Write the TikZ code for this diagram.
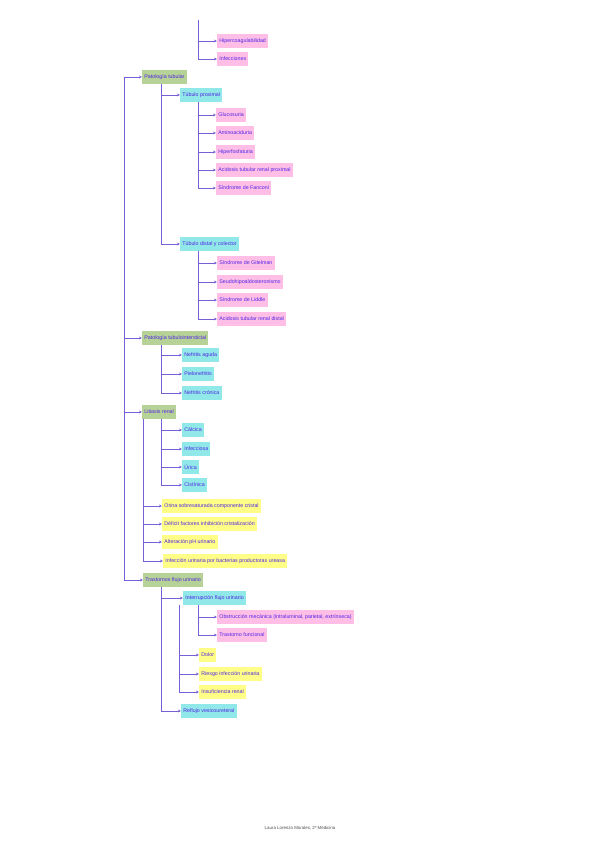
\documentclass[tikz,border=0pt]{standalone}
\usepackage{fontspec}
\setmainfont{Liberation Sans}
\usetikzlibrary{arrows.meta}

\definecolor{linea}{RGB}{120,95,215}
\definecolor{letra}{RGB}{80,35,230}
\definecolor{verde}{RGB}{182,210,150}
\definecolor{cian}{RGB}{145,232,232}
\definecolor{rosa}{RGB}{255,190,230}
\definecolor{amarillo}{RGB}{255,255,135}

\tikzset{
  caja/.style={anchor=west,inner xsep=2.2pt,inner ysep=0pt,minimum height=13.5pt,
    text=letra,font=\fontsize{5.3}{6}\selectfont},
  tema/.style={caja,fill=verde},
  sub/.style={caja,fill=cian},
  hoja/.style={caja,fill=rosa},
  nota/.style={caja,fill=amarillo},
  flecha/.style={draw=linea,line width=0.9pt,-{Stealth[length=3pt,width=2.8pt]}},
}

\begin{document}
\begin{tikzpicture}[x=1pt,y=-1pt]
		\useasboundingbox (0,0) rectangle (600,848);
		
		% resto de la rama anterior
		\coordinate (arriba) at (198,20);
		\node[hoja] (hiper) at (217,41) {Hipercoagulabilidad};
		\node[hoja] (infec) at (217,59) {Infecciones};
		\draw[flecha] (arriba) |- (hiper.west);
		\draw[flecha] (arriba) |- (infec.west);
		
		% patologia tubular
		\node[tema] (tub) at (142,77) {Patología tubular};
		\coordinate (raiz) at (124,77);
		\draw[flecha] (raiz) -- (tub.west);
		
		\node[sub] (prox) at (180,95) {Túbulo proximal};
		\node[hoja] (glu) at (216,115) {Glucosuria};
		\node[hoja] (amino) at (216,133) {Aminoaciduria};
		\node[hoja] (fosf) at (216,152) {Hiperfosfaturia};
		\node[hoja] (atrp) at (216,170) {Acidosis tubular renal proximal};
		\node[hoja] (fanc) at (216,188) {Síndrome de Fanconi};
		
		\node[sub] (dist) at (180,244) {Túbulo distal y colector};
		\node[hoja] (gitel) at (217,263) {Síndrome de Gitelman};
		\node[hoja] (seudo) at (217,282) {Seudohipoaldosteronismo};
		\node[hoja] (liddle) at (217,300) {Síndrome de Liddle};
		\node[hoja] (atrd) at (217,319) {Acidosis tubular renal distal};
		
		\draw[flecha] ([xshift=19pt]tub.south west) |- (prox.west);
		\draw[flecha] ([xshift=19pt]tub.south west) |- (dist.west);
		\foreach \h in {glu,amino,fosf,atrp,fanc}
			\draw[flecha] ([xshift=18pt]prox.south west) |- (\h.west);
		\foreach \h in {gitel,seudo,liddle,atrd}
			\draw[flecha] ([xshift=18pt]dist.south west) |- (\h.west);
		
		% patologia tubulointersticial
		\node[tema] (inter) at (142,338) {Patología tubulointersticial};
		\node[sub] (nagu) at (182,355) {Nefritis aguda};
		\node[sub] (pielo) at (182,374) {Pielonefritis};
		\node[sub] (ncro) at (182,393) {Nefritis crónica};
		\draw[flecha] (raiz) |- (inter.west);
		\foreach \h in {nagu,pielo,ncro}
			\draw[flecha] ([xshift=19pt]inter.south west) |- (\h.west);
		
		% litiasis
		\node[tema] (lit) at (142,412) {Litiasis renal};
		\node[sub] (calc) at (182,430) {Cálcica};
		\node[sub] (infe) at (182,449) {Infecciosa};
		\node[sub] (uric) at (182,467) {Úrica};
		\node[sub] (cist) at (182,485) {Cistínica};
		\node[nota] (orina) at (162,506) {Orina sobresaturada componente cristal};
		\node[nota] (defic) at (162,524) {Déficit factores inhibición cristalización};
		\node[nota] (ph) at (162,542) {Alteración pH urinario};
		\node[nota] (iu) at (163,561) {Infección urinaria por bacterias productoras ureasa};
		\draw[flecha] (raiz) |- (lit.west);
		\foreach \h in {calc,infe,uric,cist}
			\draw[flecha] ([xshift=19pt]lit.south west) |- (\h.west);
		\foreach \h in {orina,defic,ph,iu}
			\draw[flecha] ([xshift=1pt]lit.south west) |- (\h.west);
		
		% trastornos del flujo
		\node[tema] (flujo) at (143,580) {Trastornos flujo urinario};
		\node[sub] (interr) at (183,598) {Interrupción flujo urinario};
		\node[hoja] (obst) at (217,617) {Obstrucción mecánica (intraluminal, parietal, extrínseca)};
		\node[hoja] (func) at (217,635) {Trastorno funcional};
		\node[nota] (dolor) at (199,655) {Dolor};
		\node[nota] (riesgo) at (199,674) {Riesgo infección urinaria};
		\node[nota] (insuf) at (199,692) {Insuficiencia renal};
		\node[sub] (reflujo) at (181,711) {Reflujo vesicoureteral};
		\draw[flecha] (raiz) |- (flujo.west);
		\draw[flecha] ([xshift=18pt]flujo.south west) |- (interr.west);
		\draw[flecha] ([xshift=18pt]flujo.south west) |- (reflujo.west);
		\foreach \h in {obst,func}
			\draw[flecha] ([xshift=15pt]interr.south west) |- (\h.west);
		\foreach \h in {dolor,riesgo,insuf}
			\draw[flecha] ([xshift=-4pt]interr.south west) |- (\h.west);
		
		\node[font=\fontsize{4.4}{5}\selectfont,text=black!70] (firma) at (300,828) {Laura Lorenzo Morales, 2º Medicina};
		\end{tikzpicture}
\end{document}
